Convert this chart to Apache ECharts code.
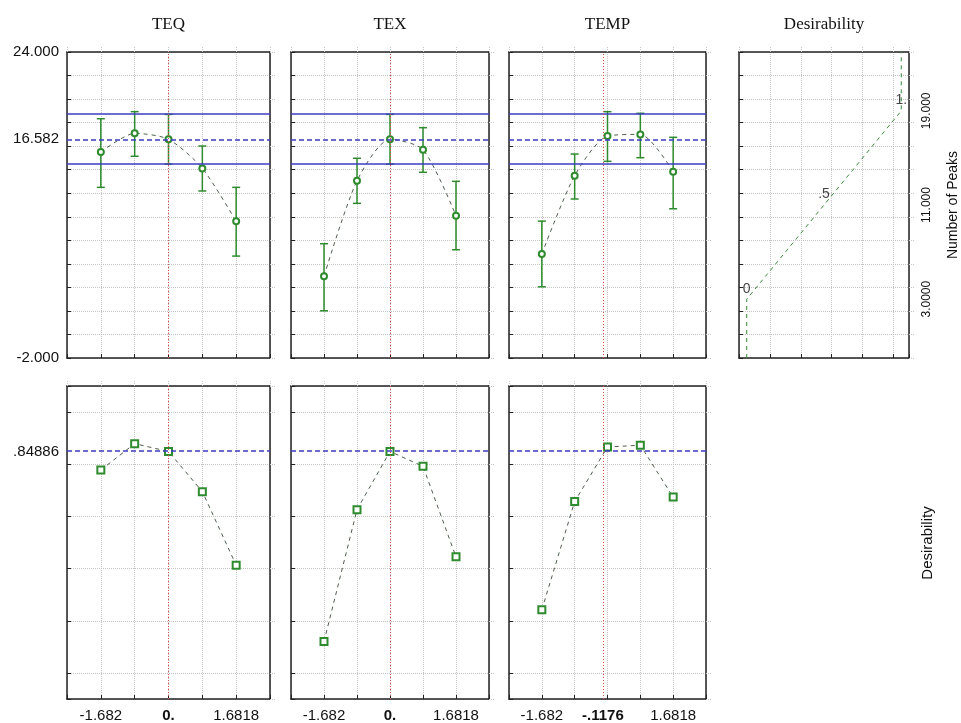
<!DOCTYPE html>
<html><head><meta charset="utf-8">
<script src="https://cdn.jsdelivr.net/npm/echarts@6/dist/echarts.min.js"></script>
<style>html,body{margin:0;padding:0;background:#fff}#c{width:961px;height:723px}</style>
</head><body><div id="c"></div>
<script>
// ---------------- data ----------------
const factorNames = ['TEQ', 'TEX', 'TEMP'];
const levels = [-1.6818, -0.8409, 0, 0.8409, 1.6818];
const currentLevels = [0, 0, -0.1176];
const xTickValues = [[-1.6818, 0, 1.6818], [-1.6818, 0, 1.6818], [-1.6818, -0.1176, 1.6818]];
const xTickLabels = [['-1.682', '0.', '1.6818'], ['-1.682', '0.', '1.6818'], ['-1.682', '-.1176', '1.6818']];

const peaksTEQ = [15.50, 17.09, 16.582, 14.11, 9.61];
const peaksTEQLow = [12.50, 15.14, 14.47, 12.19, 6.66];
const peaksTEQHigh = [18.33, 18.93, 18.70, 16.01, 12.50];
const peaksTEX = [4.94, 13.06, 16.582, 15.70, 10.09];
const peaksTEXLow = [2.01, 11.14, 14.47, 13.78, 7.20];
const peaksTEXHigh = [7.71, 14.97, 18.70, 17.57, 13.01];
const peaksTEMP = [6.83, 13.49, 16.86, 17.00, 13.83];
const peaksTEMPLow = [4.05, 11.51, 14.71, 15.02, 10.68];
const peaksTEMPHigh = [9.63, 15.33, 18.93, 18.79, 16.75];

const peaksPredicted = 16.582;
const peaksCI = [14.50, 18.75];
const peaksTickValues = [-2, 16.582, 24];
const peaksTickLabels = ['-2.000', '16.582', '24.000'];

const desirTEQ = [0.778, 0.879, 0.849, 0.695, 0.413];
const desirTEX = [0.120, 0.626, 0.849, 0.792, 0.445];
const desirTEMP = [0.242, 0.657, 0.866, 0.873, 0.674];
const desirOverall = 0.84886;
const desirTickValues = [0.84886];
const desirTickLabels = ['.84886'];

const desirFnD = [0, 0, 1, 1];
const desirFnPeaks = [-2, 3, 19, 24];
const desirFnLabelD = [0, 0.5, 1];
const desirFnLabelPeaks = [3, 11, 19];
const desirFnLabels = ['0', '.5', '1.'];
const rightTickValues = [3, 11, 19];
const rightTickLabels = ['3.0000', '11.000', '19.000'];

// ---------------- styles / layout ----------------
const SANS = 'Liberation Sans, Arial, sans-serif';
const SERIF = 'Liberation Serif, Times New Roman, serif';
const GREEN = '#2e8b2e';
const BLUE = '#3b3bc4';
const RED = '#e04848';
const DASHGRAY = '#4f5f4f';
const FRAME = {show: true, onZero: false, lineStyle: {color: '#222', width: 1.5}};
const GRIDLINE = {show: true, lineStyle: {color: '#c4c4c4', type: 'dotted', width: 1}};
const OUTTICK = {show: true, inside: false, length: 6, lineStyle: {color: '#c4c4c4', type: 'dotted', width: 1}};
const INTICK = {show: true, inside: true, length: 4, lineStyle: {color: '#222', width: 1}};
const COLS = [{left: 67, width: 203}, {left: 291, width: 198}, {left: 509, width: 197}, {left: 739, width: 170}];
const ROWS = [{top: 52, height: 306}, {top: 386, height: 314}];
const XR = {min: -2.5227, max: 2.5227, interval: 0.8409};

const grids = [], xAxes = [], yAxes = [], series = [];
function addGrid(c, r) {
  grids.push({left: COLS[c].left, width: COLS[c].width, top: ROWS[r].top, height: ROWS[r].height, show: false});
  return grids.length - 1;
}
function lookup(vals, labs) {
  return function (v) {
    for (let i = 0; i < vals.length; i++) if (Math.abs(vals[i] - v) < 1e-6) return labs[i];
    return '';
  };
}

const peaksData = [[peaksTEQ, peaksTEQLow, peaksTEQHigh], [peaksTEX, peaksTEXLow, peaksTEXHigh], [peaksTEMP, peaksTEMPLow, peaksTEMPHigh]];
const desirData = [desirTEQ, desirTEX, desirTEMP];

for (let f = 0; f < 3; f++) {
  // ---- top row: Number of Peaks ----
  let g = addGrid(f, 0);
  const xb = xAxes.length;
  xAxes.push({gridIndex: g, type: 'value', position: 'bottom', min: XR.min, max: XR.max, interval: XR.interval,
    axisLine: FRAME, axisTick: INTICK, axisLabel: {show: false}, splitLine: GRIDLINE});
  xAxes.push({gridIndex: g, type: 'value', position: 'top', min: XR.min, max: XR.max, interval: XR.interval,
    axisLine: FRAME, axisTick: OUTTICK, axisLabel: {show: false}, splitLine: {show: false},
    name: factorNames[f], nameLocation: 'middle', nameGap: 19,
    nameTextStyle: {fontFamily: SERIF, fontSize: 17, color: '#111'}});
  const yb = yAxes.length;
  yAxes.push({gridIndex: g, type: 'value', position: 'left', min: -2, max: 24, interval: 2,
    axisLine: FRAME, axisTick: INTICK, splitLine: GRIDLINE,
    axisLabel: f === 0 ? {show: true, customValues: peaksTickValues, formatter: lookup(peaksTickValues, peaksTickLabels),
      fontFamily: SANS, fontSize: 15, color: '#111', margin: 8} : {show: false}});
  yAxes.push({gridIndex: g, type: 'value', position: 'right', min: -2, max: 24, interval: 2,
    axisLine: FRAME, axisTick: OUTTICK, axisLabel: {show: false}, splitLine: {show: false}});
  const [pv, lo, hi] = peaksData[f];
  series.push({type: 'custom', xAxisIndex: xb, yAxisIndex: yb, z: 3, silent: true,
    data: levels.map((x, i) => [x, lo[i], hi[i]]),
    encode: {x: 0, y: [1, 2]},
    renderItem: function (params, api) {
      const x = api.value(0);
      const p1 = api.coord([x, api.value(1)]), p2 = api.coord([x, api.value(2)]);
      const hw = 4, st = {stroke: GREEN, lineWidth: 1.5};
      return {type: 'group', children: [
        {type: 'line', shape: {x1: p1[0], y1: p1[1], x2: p2[0], y2: p2[1]}, style: st},
        {type: 'line', shape: {x1: p1[0] - hw, y1: p1[1], x2: p1[0] + hw, y2: p1[1]}, style: st},
        {type: 'line', shape: {x1: p2[0] - hw, y1: p2[1], x2: p2[0] + hw, y2: p2[1]}, style: st}]};
    }});
  series.push({type: 'line', xAxisIndex: xb, yAxisIndex: yb, z: 4, silent: true, smooth: 0.25,
    data: levels.map((x, i) => [x, pv[i]]),
    symbol: 'emptyCircle', symbolSize: 6, itemStyle: {color: GREEN, borderWidth: 1},
    lineStyle: {color: DASHGRAY, width: 1, type: [4, 4]},
    markLine: {silent: true, symbol: ['none', 'none'], label: {show: false}, animation: false,
      data: [
        {yAxis: peaksCI[1], lineStyle: {color: BLUE, width: 1.5, type: 'solid'}},
        {yAxis: peaksCI[0], lineStyle: {color: BLUE, width: 1.5, type: 'solid'}},
        {yAxis: peaksPredicted, lineStyle: {color: BLUE, width: 1.5, type: [5, 3]}},
        {xAxis: currentLevels[f], lineStyle: {color: RED, width: 1, type: [1, 2]}}
      ]}});

  // ---- bottom row: Desirability ----
  g = addGrid(f, 1);
  const xb2 = xAxes.length;
  xAxes.push({gridIndex: g, type: 'value', position: 'bottom', min: XR.min, max: XR.max, interval: XR.interval,
    axisLine: FRAME, axisTick: INTICK, splitLine: GRIDLINE,
    axisLabel: {show: true, customValues: xTickValues[f], margin: 9, fontFamily: SANS, fontSize: 15, color: '#111',
      formatter: function (v) {
        const s = lookup(xTickValues[f], xTickLabels[f])(v);
        return Math.abs(v - currentLevels[f]) < 1e-6 ? '{b|' + s + '}' : s;
      },
      rich: {b: {fontWeight: 'bold', fontFamily: SANS, fontSize: 15, color: '#111'}}}});
  xAxes.push({gridIndex: g, type: 'value', position: 'top', min: XR.min, max: XR.max, interval: XR.interval,
    axisLine: FRAME, axisTick: OUTTICK, axisLabel: {show: false}, splitLine: {show: false}});
  const yb2 = yAxes.length;
  yAxes.push({gridIndex: g, type: 'value', position: 'left', min: -0.1, max: 1.1, splitNumber: 6,
    axisLine: FRAME, axisTick: INTICK, splitLine: GRIDLINE,
    axisLabel: f === 0 ? {show: true, customValues: desirTickValues, formatter: lookup(desirTickValues, desirTickLabels),
      fontFamily: SANS, fontSize: 15, color: '#111', margin: 8} : {show: false}});
  yAxes.push({gridIndex: g, type: 'value', position: 'right', min: -0.1, max: 1.1, splitNumber: 6,
    axisLine: FRAME, axisTick: OUTTICK, axisLabel: {show: false}, splitLine: {show: false}});
  series.push({type: 'line', xAxisIndex: xb2, yAxisIndex: yb2, z: 4, silent: true,
    data: levels.map((x, i) => [x, desirData[f][i]]),
    symbol: 'emptyRect', symbolSize: 7, itemStyle: {color: GREEN, borderWidth: 1.5},
    lineStyle: {color: DASHGRAY, width: 1, type: [4, 4]},
    markLine: {silent: true, symbol: ['none', 'none'], label: {show: false}, animation: false,
      data: [
        {yAxis: desirOverall, lineStyle: {color: BLUE, width: 1.5, type: [5, 3]}},
        {xAxis: currentLevels[f], lineStyle: {color: RED, width: 1, type: [1, 2]}}
      ]}});
}

// ---- top right: desirability function ----
{
  const g = addGrid(3, 0);
  const xb = xAxes.length;
  xAxes.push({gridIndex: g, type: 'value', position: 'bottom', min: -0.05, max: 1.05, interval: 0.2,
    axisLine: FRAME, axisTick: INTICK, axisLabel: {show: false}, splitLine: GRIDLINE});
  xAxes.push({gridIndex: g, type: 'value', position: 'top', min: -0.05, max: 1.05, interval: 0.2,
    axisLine: FRAME, axisTick: OUTTICK, axisLabel: {show: false}, splitLine: {show: false},
    name: 'Desirability', nameLocation: 'middle', nameGap: 19,
    nameTextStyle: {fontFamily: SERIF, fontSize: 17, color: '#111'}});
  const yb = yAxes.length;
  yAxes.push({gridIndex: g, type: 'value', position: 'left', min: -2, max: 24, interval: 2,
    axisLine: FRAME, axisTick: INTICK, axisLabel: {show: false}, splitLine: GRIDLINE});
  yAxes.push({gridIndex: g, type: 'value', position: 'right', min: -2, max: 24, interval: 2,
    axisLine: FRAME, axisTick: OUTTICK, splitLine: {show: false},
    axisLabel: {show: true, customValues: rightTickValues, formatter: lookup(rightTickValues, rightTickLabels),
      rotate: 90, margin: 12, fontFamily: SANS, fontSize: 12, color: '#111'},
    name: 'Number of Peaks', nameLocation: 'middle', nameRotate: 90, nameGap: 37,
    nameTextStyle: {fontFamily: SANS, fontSize: 14, color: '#111'}});
  series.push({type: 'line', xAxisIndex: xb, yAxisIndex: yb, z: 4, silent: true,
    data: desirFnD.map((d, i) => [d, desirFnPeaks[i]]), symbol: 'none',
    lineStyle: {color: '#3a8a3a', width: 1, type: [4, 4]}});
  series.push({type: 'scatter', xAxisIndex: xb, yAxisIndex: yb, z: 5, silent: true, symbolSize: 1,
    itemStyle: {color: 'rgba(0,0,0,0)'},
    data: desirFnLabelD.map((d, i) => ({value: [d, desirFnLabelPeaks[i]], name: desirFnLabels[i]})),
    label: {show: true, position: 'top', distance: 3, formatter: '{b}', fontFamily: SANS, fontSize: 14, color: '#111'}});
}

// ---- bottom right: only axis title ----
{
  const g = addGrid(3, 1);
  xAxes.push({gridIndex: g, type: 'value', show: false, min: 0, max: 1});
  yAxes.push({gridIndex: g, type: 'value', position: 'right', min: 0, max: 1,
    axisLine: {show: false, onZero: false}, axisTick: {show: false}, axisLabel: {show: false}, splitLine: {show: false},
    name: 'Desirability', nameLocation: 'middle', nameRotate: 90, nameGap: 11,
    nameTextStyle: {fontFamily: SANS, fontSize: 15, color: '#111'}});
}

const chart = echarts.init(document.getElementById('c'), null, {renderer: 'canvas'});
chart.setOption({animation: false, backgroundColor: '#fff', grid: grids, xAxis: xAxes, yAxis: yAxes, series: series});
</script></body></html>
